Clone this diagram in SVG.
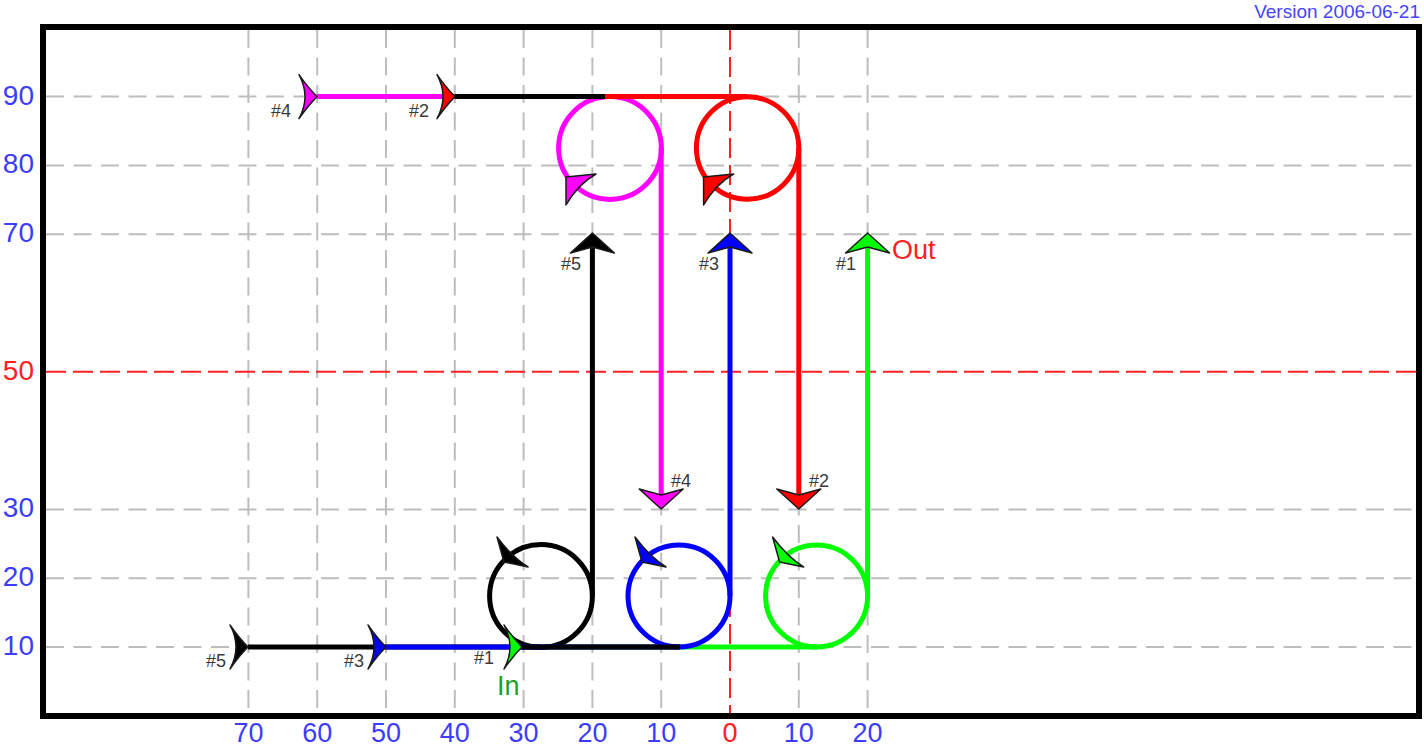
<svg xmlns="http://www.w3.org/2000/svg" width="1424" height="748" viewBox="0 0 1424 748">
<style>
.grid{stroke:#bdbdbd;stroke-width:2;stroke-dasharray:18 9.5;fill:none}
.gridr{stroke:#ff2020;stroke-width:2;stroke-dasharray:20 7;fill:none}
.ax{font-family:"Liberation Sans",Arial,sans-serif;font-size:28px;fill:#3c3cff}
.axb{font-size:27px}
.axr{fill:#ff2020}
.lbl{font-family:"Liberation Sans",Arial,sans-serif;font-size:18px;fill:#3a3a3a;text-anchor:end}
.p{fill:none;stroke-width:5}
.ah{stroke:#1a1a1a;stroke-width:1.5;stroke-linejoin:round}
</style>
<defs>
<path id="aR" d="M-18,-22 Q-9,-9 0,0 Q-9,9 -18,22 Q-6,0 -18,-22 Z"/>
<path id="aU" d="M0,0 L22,20 L0,14 L-22,20 Z"/>
<path id="cB" d="M-44,-59 L-37,-34 L-13,-29 Q-29,-39 -44,-59 Z"/>
<path id="cT" d="M-44,29 L-14,26 Q-32,36 -44,57 Z"/>
</defs>
<rect width="1424" height="748" fill="#ffffff"/>
<text x="1420" y="18" font-family="Liberation Sans, Arial, sans-serif" font-size="19" fill="#4444ff" text-anchor="end">Version 2006-06-21</text>
<g id="grid">
<path class="grid" d="M46,96.6 H1416 M46,165.4 H1416 M46,234.2 H1416 M46,509.4 H1416 M46,578.2 H1416 M46,647 H1416"/>
<path class="grid" d="M248.4,30 V713 M317.2,30 V713 M386,30 V713 M454.8,30 V713 M523.6,30 V713 M592.4,30 V713 M661.2,30 V713 M798.8,30 V713 M867.6,30 V713"/>
<path class="gridr" d="M46,371.8 H1416 M730,30 V713"/>
</g>
<rect id="frame" x="43" y="27" width="1376" height="689" fill="none" stroke="#000" stroke-width="6"/>
<g id="axis-labels" class="ax">
<g text-anchor="end">
<text x="34" y="104.6">90</text>
<text x="34" y="173.4">80</text>
<text x="34" y="242.2">70</text>
<text x="34" y="379.8" class="axr">50</text>
<text x="34" y="517.4">30</text>
<text x="34" y="586.2">20</text>
<text x="34" y="655">10</text>
</g>
<g text-anchor="middle" class="axb">
<text x="248.4" y="742">70</text>
<text x="317.2" y="742">60</text>
<text x="386" y="742">50</text>
<text x="454.8" y="742">40</text>
<text x="523.6" y="742">30</text>
<text x="592.4" y="742">20</text>
<text x="661.2" y="742">10</text>
<text x="730" y="742" class="axr">0</text>
<text x="798.8" y="742">10</text>
<text x="867.6" y="742">20</text>
</g>
</g>
<g id="connectors">
<g id="path1" stroke="#00ff00" class="p">
<path d="M522,647 H817 M867.6,596 V247"/>
<circle cx="816.6" cy="596" r="51"/>
</g>
<g id="path5" stroke="#000000" class="p">
<path d="M248,647 H541 M592.4,596 V247"/>
<circle cx="541" cy="596" r="51.4"/>
</g>
<g id="path3" stroke="#0000ff" class="p">
<path d="M386,647 H679 M730,596 V247"/>
<circle cx="679" cy="596" r="51"/>
</g>
<path class="p" stroke="#000000" d="M522,647 H680"/>
<g id="path4" stroke="#ff00ff" class="p">
<path d="M317,96.6 H610 M661.2,148 V497"/>
<circle cx="610" cy="148" r="51.4"/>
</g>
<g id="path2" stroke="#ff0000" class="p">
<path d="M455,96.6 H747.6 M798.8,148 V497"/>
<circle cx="747.6" cy="148" r="51.2"/>
</g>
<path class="p" stroke="#000000" d="M455,96.6 H605"/>
</g>
<g id="arrowheads" class="ah">
<use href="#aR" x="317" y="96.6" fill="#ff00ff"/>
<use href="#aR" x="455" y="96.6" fill="#ff0000"/>
<use href="#aR" x="248" y="647" fill="#000000"/>
<use href="#aR" x="386" y="647" fill="#0000ff"/>
<use href="#aR" x="522" y="647" fill="#00ff00"/>
<use href="#aU" x="592.4" y="233" fill="#000000"/>
<use href="#aU" x="730" y="233" fill="#0000ff"/>
<use href="#aU" x="867.6" y="233" fill="#00ff00"/>
<use href="#aU" transform="translate(661.2,509) rotate(180)" fill="#ff00ff"/>
<use href="#aU" transform="translate(798.8,509) rotate(180)" fill="#ff0000"/>
<use href="#cB" x="541" y="596" fill="#000000"/>
<use href="#cB" x="679" y="596" fill="#0000ff"/>
<use href="#cB" x="816.6" y="596" fill="#00ff00"/>
<use href="#cT" x="610" y="148" fill="#ff00ff"/>
<use href="#cT" x="747.6" y="148" fill="#ff0000"/>
</g>
<g id="labels">
<text class="lbl" x="291" y="117">#4</text>
<text class="lbl" x="429" y="117">#2</text>
<text class="lbl" x="226" y="667">#5</text>
<text class="lbl" x="364" y="667">#3</text>
<text class="lbl" x="494" y="664">#1</text>
<text class="lbl" x="581" y="270">#5</text>
<text class="lbl" x="719" y="270">#3</text>
<text class="lbl" x="856" y="270">#1</text>
<text class="lbl" x="691" y="487">#4</text>
<text class="lbl" x="829" y="487">#2</text>
<text x="497" y="695" font-family="Liberation Sans, Arial, sans-serif" font-size="27" fill="#22a022">In</text>
<text x="892" y="259" font-family="Liberation Sans, Arial, sans-serif" font-size="27" fill="#ff2020">Out</text>
</g>
</svg>
